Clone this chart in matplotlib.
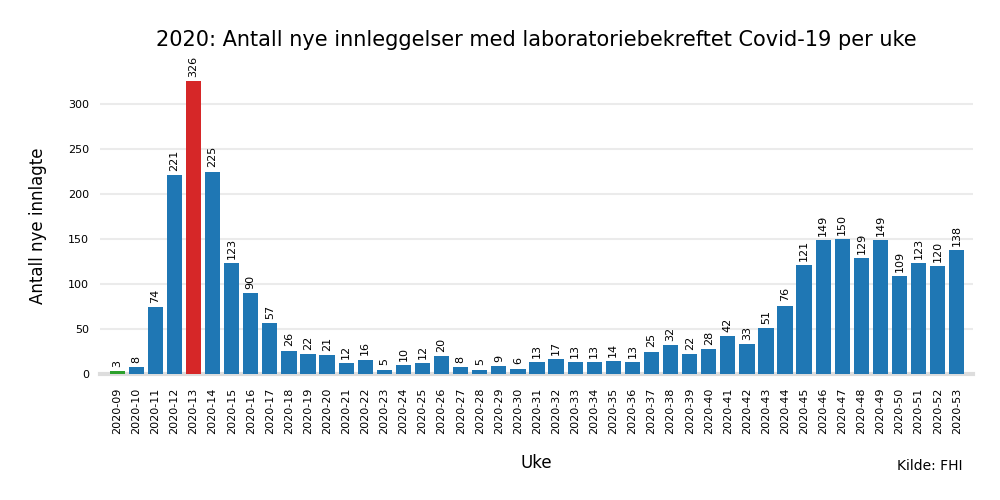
import matplotlib
matplotlib.use("Agg")
import matplotlib.pyplot as plt

# data
weeks = [f"2020-{w:02d}" for w in range(9, 54)]
innlagte = [3, 8, 74, 221, 326, 225, 123, 90, 57, 26, 22, 21, 12, 16, 5, 10, 12, 20,
            8, 5, 9, 6, 13, 17, 13, 13, 14, 13, 25, 32, 22, 28, 42, 33, 51, 76,
            121, 149, 150, 129, 149, 109, 123, 120, 138]

# farger: første uke grønn, høyeste rød
colors = ["#1f77b4"] * len(innlagte)
colors[0] = "#2ca02c"
colors[innlagte.index(max(innlagte))] = "#d62728"

fig = plt.figure(figsize=(10, 5), dpi=100)
ax = fig.add_axes([0.1, 0.252, 0.873, 0.592])

x = list(range(len(weeks)))
bars = ax.bar(x, innlagte, width=0.8, color=colors, zorder=3)

for b, v in zip(bars, innlagte):
    ax.annotate(str(v), (b.get_x() + b.get_width() / 2, v), xytext=(0, 3),
                textcoords="offset points", ha="center", va="bottom",
                rotation=90, fontsize=8, annotation_clip=False)

ax.set_xticks(x)
ax.set_xticklabels(weeks, rotation=90, fontsize=8)
ax.tick_params(axis="y", labelsize=8)
ax.tick_params(axis="x", length=0, pad=10)
ax.tick_params(axis="y", length=0, pad=8)
ax.set_xlim(-0.9, 44.85)
ax.set_ylim(0, 329)
ax.set_yticks([0, 50, 100, 150, 200, 250, 300])

ax.grid(axis="y", color="#ebebeb", linewidth=1.5, zorder=0)
for s in ["top", "right", "left"]:
    ax.spines[s].set_visible(False)
ax.spines["bottom"].set_color("#dddddd")
ax.spines["bottom"].set_linewidth(3)

ax.set_title("2020: Antall nye innleggelser med laboratoriebekreftet Covid-19 per uke",
             fontsize=15, pad=23)
ax.set_ylabel("Antall nye innlagte", fontsize=12, labelpad=15)
ax.set_xlabel("Uke", fontsize=12, labelpad=14)
fig.text(0.897, 0.060, "Kilde: FHI", fontsize=10)

plt.savefig("out.png", dpi=100)
